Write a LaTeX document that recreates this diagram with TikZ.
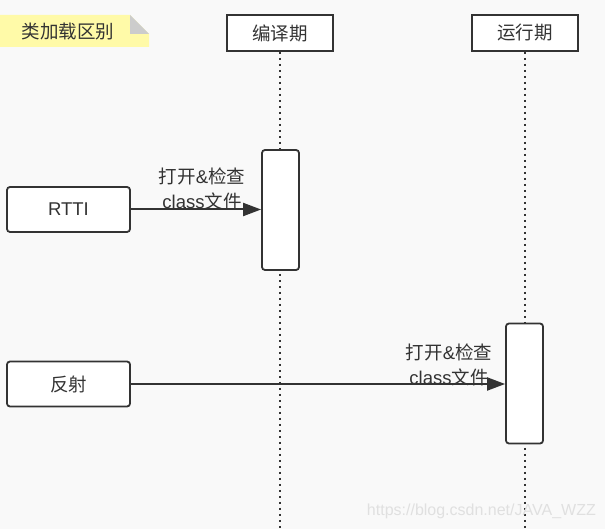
\documentclass[tikz,border=0pt]{standalone}
\usepackage{fontspec}
\setmainfont{Liberation Sans}
\newfontfamily\cjk{Noto Sans CJK SC}
\usetikzlibrary{arrows.meta}
\definecolor{ln}{HTML}{333333}
\definecolor{bg}{HTML}{F9F9F9}
\definecolor{notey}{HTML}{FFFAA8}
\definecolor{fold}{HTML}{CCCCCC}
\tikzset{
  head/.style={draw=ln, line width=1.8pt, fill=white, minimum width=106pt, minimum height=36pt, inner sep=0pt, font=\cjk\fontsize{18.5}{20}\selectfont, text=ln},
  actor/.style={draw=ln, line width=1.8pt, fill=white, rounded corners=3pt, minimum width=123pt, minimum height=45pt, inner sep=0pt, font=\fontsize{18.5}{20}\selectfont, text=ln},
  act/.style={draw=ln, line width=1.8pt, fill=white, rounded corners=3pt, minimum width=37pt, minimum height=120pt, inner sep=0pt},
  life/.style={draw=ln, line width=1.6pt, dash pattern=on 2pt off 4pt},
  msg/.style={draw=ln, line width=2pt, -{Triangle[length=18pt,width=13pt]}},
  lbl/.style={font=\fontsize{18.5}{25}\selectfont, text=ln, align=center, inner sep=0pt}
}
\begin{document}
\begin{tikzpicture}[x=1pt,y=-1pt]
\fill[bg] (0,0) rectangle (605,529);
\useasboundingbox (0,0) rectangle (605,529);
% note
\fill[notey] (0,15) -- (130,15) -- (149,34) -- (149,47) -- (0,47) -- cycle;
\fill[fold] (130,15) -- (149,34) -- (130,34) -- cycle;
\node[font=\cjk\fontsize{18.5}{20}\selectfont, text=ln] (note) at (68,32) {类加载区别};
% heads
\node[head] (c) at (280,33) {编译期};
\node[head] (r) at (525,33) {运行期};
\coordinate (cend) at (280,529);
\coordinate (rend) at (525,529);
\draw[life] (c.south) -- (cend);
\draw[life] (r.south) -- (rend);
% activations
\node[act] (a1) at (280.5,210) {};
\node[act] (a2) at (524.5,383.5) {};
% actors
\node[actor] (rtti) at (68.5,209.5) {RTTI};
\node[actor] (refl) at (68.5,384) {\cjk 反射};
% messages
\draw[msg] (rtti.east) -- (rtti.east -| a1.west);
\draw[msg] (refl.east) -- (refl.east -| a2.west);
\node[lbl] (l1) at (202,189) {{\cjk 打开}\&{\cjk 检查}\\class{\cjk 文件}};
\node[lbl] (l2) at (449,365) {{\cjk 打开}\&{\cjk 检查}\\class{\cjk 文件}};
% watermark
\node[font=\fontsize{16}{18}\selectfont, text=black!12, anchor=east, inner sep=0pt] (wm) at (596,511) {https://blog.csdn.net/JAVA\_WZZ};
\end{tikzpicture}
\end{document}
